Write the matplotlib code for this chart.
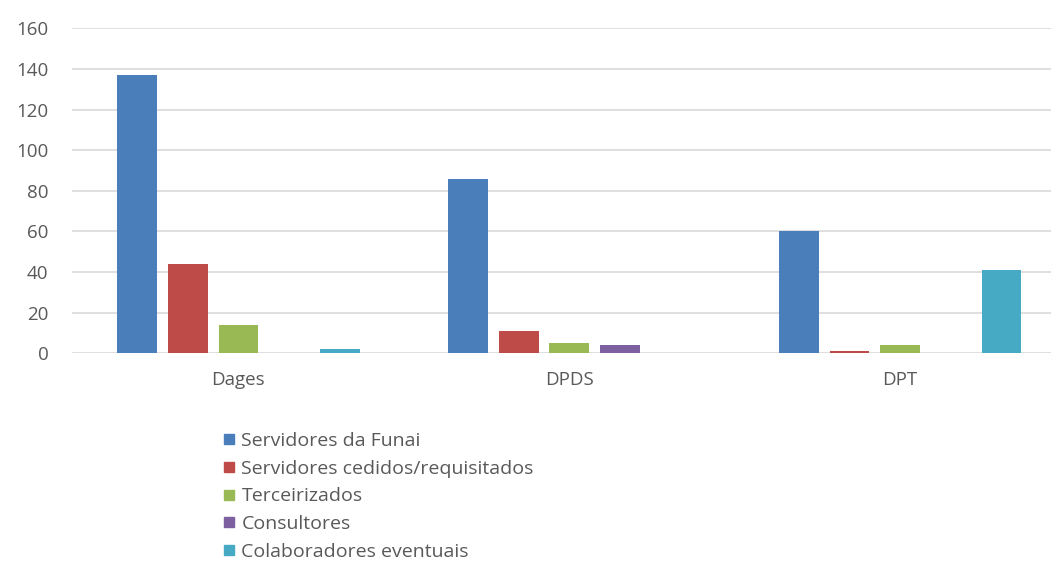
import numpy as np
import matplotlib
matplotlib.use("Agg")
import matplotlib.pyplot as plt
from matplotlib.lines import Line2D

categories = ["Dages", "DPDS", "DPT"]
series_names = ["Servidores da Funai", "Servidores cedidos/requisitados",
                "Terceirizados", "Consultores", "Colaboradores eventuais"]
funai = [137, 86, 60]
cedidos = [44, 11, 1]
terceirizados = [14, 5, 4]
consultores = [0, 4, 0]
colaboradores = [2, 0, 41]
colors = ["#4A7EBB", "#BE4B48", "#98B954", "#7D60A0", "#46AAC5"]
yticks = [0, 20, 40, 60, 80, 100, 120, 140, 160]

series = [funai, cedidos, terceirizados, consultores, colaboradores]

plt.rcParams["font.family"] = ["Open Sans", "DejaVu Sans"]
text_color = "#595959"

fig = plt.figure(figsize=(10.51, 5.61), dpi=100)
W, H = 1051, 561
ax = fig.add_axes([72 / W, 1 - 353.3 / H, (W - 72) / W, (353.3 - 28.3) / H])

x = np.arange(len(categories))
pitch = 0.153
width = 0.12
for i, (vals, col) in enumerate(zip(series, colors)):
    ax.bar(x + (i - 2) * pitch, vals, width=width, color=col, zorder=3)

ax.set_xlim(-0.503, 2.456)
ax.set_ylim(0, 160)
ax.set_yticks(yticks)
ax.set_xticks(x)
ax.set_xticklabels(categories)
ax.yaxis.grid(True, color="#D9D9D9", linewidth=1.2, zorder=0)
ax.tick_params(axis="both", length=0, colors=text_color, labelsize=13.5)
ax.tick_params(axis="y", pad=17)
ax.tick_params(axis="x", pad=12.5)
for s in ax.spines.values():
    s.set_visible(False)

handles = [Line2D([0], [0], marker="s", linestyle="none", markersize=7,
                  markerfacecolor=c, markeredgecolor=c) for c in colors]
leg = fig.legend(handles, series_names, loc="upper left",
                 bbox_to_anchor=(222 / W, 1 - 432 / H), frameon=False,
                 fontsize=14, handlelength=0.7, handletextpad=0.3,
                 labelspacing=0.5, borderpad=0, borderaxespad=0)
for t in leg.get_texts():
    t.set_color(text_color)

fig.savefig("out.png", dpi=100)
